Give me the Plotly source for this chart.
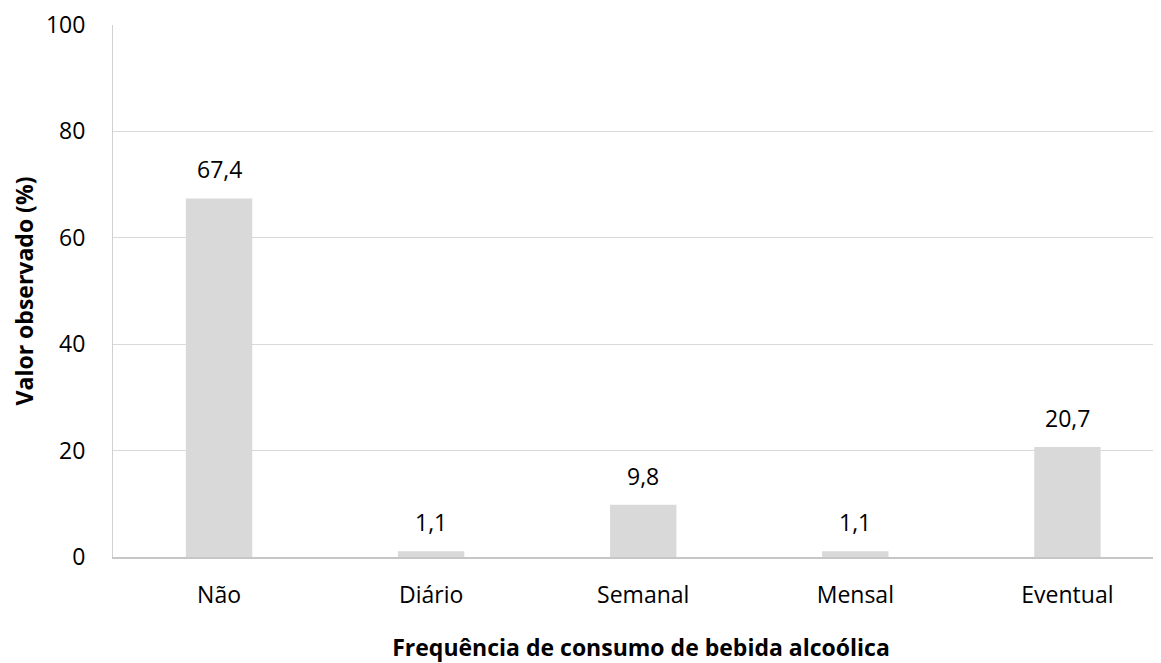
import plotly.graph_objects as go

categories = ["Não", "Diário", "Semanal", "Mensal", "Eventual"]
values = [67.4, 1.1, 9.8, 1.1, 20.7]
y_ticks = [0, 20, 40, 60, 80, 100]

FONT = "Open Sans"
FS = 23

fig = go.Figure()
fig.add_trace(go.Bar(
    x=categories, y=values, width=0.313,
    marker=dict(color="#d9d9d9", line=dict(width=0)),
    hoverinfo="skip", showlegend=False,
))

for c, v in zip(categories, values):
    fig.add_annotation(
        x=c, y=v, text=f"{v:.1f}".replace(".", ","), showarrow=False,
        yanchor="bottom", yshift=11,
        font=dict(family=FONT, size=FS, color="#000000"),
    )

fig.update_layout(
    width=1161, height=663,
    margin=dict(l=105, r=0, t=17, b=114),
    paper_bgcolor="white", plot_bgcolor="white",
    font=dict(family=FONT, size=FS, color="#000000"),
)
fig.update_xaxes(
    range=[-0.5, 4.479], automargin=False,
    showline=True, linecolor="#c6c6c6", linewidth=2,
    showgrid=False, ticks="", ticklabelstandoff=16,
    title=dict(text="<b>Frequência de consumo de bebida alcoólica</b>",
               font=dict(family=FONT, size=FS), standoff=31),
)
fig.update_yaxes(
    range=[0, 100], tickvals=y_ticks, automargin=False,
    showgrid=True, gridcolor="#d9d9d9", gridwidth=1,
    showline=True, linecolor="#d0d0d0", linewidth=1,
    zeroline=False, ticks="", ticklabelstandoff=22,
    title=dict(text="<b>Valor observado (%)</b>",
               font=dict(family=FONT, size=FS), standoff=21),
)

fig.write_html("out.html")
